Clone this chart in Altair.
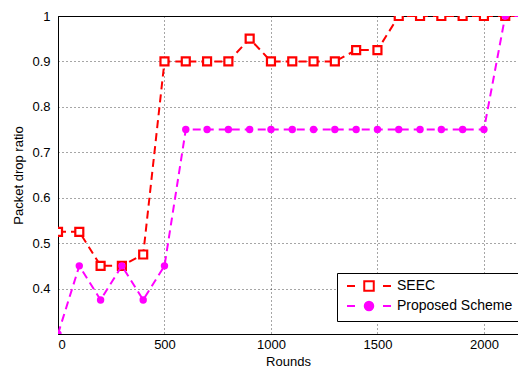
import altair as alt
import pandas as pd

rounds = list(range(0, 2201, 100))
seec = [0.525, 0.525, 0.45, 0.45, 0.475, 0.9, 0.9, 0.9, 0.9, 0.95, 0.9, 0.9,
        0.9, 0.9, 0.925, 0.925, 1, 1, 1, 1, 1, 1, 1]
proposed = [0.3, 0.45, 0.375, 0.45, 0.375, 0.45] + [0.75] * 15 + [1, 1]
series_names = ["SEEC", "Proposed Scheme"]
x_ticks = [0, 500, 1000, 1500, 2000]
y_ticks = [0.4, 0.5, 0.6, 0.7, 0.8, 0.9, 1.0]

df = pd.DataFrame(
    {"Rounds": rounds * 2,
     "value": seec + proposed,
     "series": [series_names[0]] * len(rounds) + [series_names[1]] * len(rounds)}
)

RED = "#ff0000"
MAG = "#ff00ff"
FONT = "Liberation Sans"

x = alt.X("Rounds:Q", scale=alt.Scale(domain=[0, 2160], nice=False, zero=False),
          axis=alt.Axis(values=x_ticks, format="d", title="Rounds", labelPadding=4, titlePadding=4))
y = alt.Y("value:Q", scale=alt.Scale(domain=[0.3, 1.0], nice=False, zero=False),
          axis=alt.Axis(values=y_ticks, format="~g", title="Packet drop ratio",
                        labelPadding=8, titlePadding=6))

base = alt.Chart(df)

seec_line = base.transform_filter(alt.datum.series == "SEEC").mark_line(
    color=RED, strokeWidth=2, strokeDash=[8, 5], clip=True).encode(x=x, y=y)
seec_pts = base.transform_filter(alt.datum.series == "SEEC").mark_point(
    shape="square", size=64, stroke=RED, fill="white", filled=False, fillOpacity=1,
    strokeWidth=2.2, opacity=1, clip=True).encode(x=x, y=y)
prop_line = base.transform_filter(alt.datum.series == "Proposed Scheme").mark_line(
    color=MAG, strokeWidth=2, strokeDash=[8, 5], clip=True).encode(x=x, y=y)
prop_pts = base.transform_filter(alt.datum.series == "Proposed Scheme").mark_circle(
    size=55, color=MAG, opacity=1, clip=True).encode(x=x, y=y)

sq_path = "M-4.4,0H-2.8M-0.95,-0.95H0.95V0.95H-0.95ZM2.8,0H4.4"
ci_path = "M-4.4,0H-2.8M-0.85,0A0.85,0.85 0 1,1 0.85,0A0.85,0.85 0 1,1 -0.85,0ZM2.8,0H4.4"

legend = alt.Legend(title=None, orient="none", legendX=279, legendY=257,
                    fillColor="white", strokeColor="black", padding=6,
                    symbolOffset=19, labelOffset=21, symbolSize=100,
                    symbolStrokeWidth=2, labelFont=FONT, labelFontSize=14,
                    labelColor="black", rowPadding=2, labelLimit=300)

legend_layer = base.transform_filter("false").mark_point(filled=False, opacity=1).encode(
    stroke=alt.Stroke("series:N", scale=alt.Scale(domain=series_names, range=[RED, MAG]),
                      legend=legend),
    fill=alt.Fill("series:N", scale=alt.Scale(domain=series_names, range=["white", MAG]),
                  legend=legend),
    shape=alt.Shape("series:N", scale=alt.Scale(domain=series_names, range=[sq_path, ci_path]),
                    legend=legend),
)

chart = alt.layer(seec_line, seec_pts, prop_line, prop_pts, legend_layer).properties(
    width=460, height=318,
    autosize=alt.AutoSizeParams(type="none"),
    padding={"left": 50, "top": 8, "right": 0, "bottom": 40},
).configure_view(stroke="black", strokeWidth=1).configure_axis(
    labelFont=FONT, titleFont=FONT, labelFontSize=13, titleFontSize=13,
    labelColor="black", titleColor="black", titleFontWeight="normal",
    domainColor="black", ticks=False, grid=True, gridColor="black",
    gridDash=[1, 3], gridOpacity=0.7, gridWidth=1,
)

chart.save("out.html", embed_options={"renderer": "svg", "actions": False})
